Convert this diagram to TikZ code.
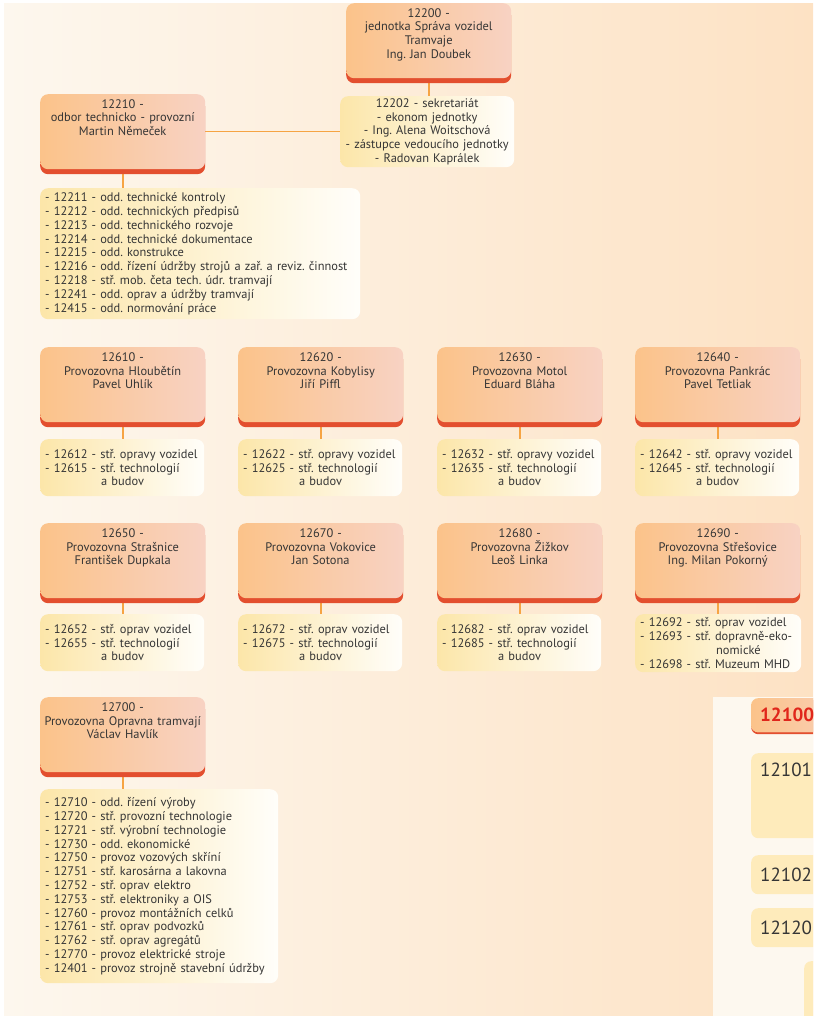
\documentclass[tikz,border=0pt]{standalone}
\usepackage{fontspec}
\setmainfont{PT Sans}
\usetikzlibrary{shadows,backgrounds}
\frenchspacing

\definecolor{bgleft}{HTML}{FDF7EE}
\definecolor{bgright}{HTML}{FDE2C4}
\definecolor{unitleft}{HTML}{FBC38A}
\definecolor{unitright}{HTML}{F8D2C3}
\definecolor{unitedge}{HTML}{E34F2F}
\definecolor{listleft}{HTML}{FCE6A9}
\definecolor{listright}{HTML}{FFFEFA}
\definecolor{linkcol}{HTML}{F6A443}
\definecolor{textcol}{HTML}{353535}
\definecolor{panelcol}{HTML}{FDF8EF}
\definecolor{sidecol}{HTML}{FEEBBB}
\definecolor{codered}{HTML}{E0261B}

\begin{document}
\begin{tikzpicture}[x=1pt, y=-1pt,
  every node/.style={font=\fontsize{12.4}{13.8}\selectfont, text=textcol},
  unitbox/.style={rounded corners=8pt, left color=unitleft, right color=unitright,
    drop shadow={shadow xshift=0pt, shadow yshift=-5pt, fill=unitedge, opacity=1},
    anchor=north west, text width=163pt, inner xsep=1pt, inner ysep=2pt,
    align=center, text height=12pt, text depth=59pt},
  listbox/.style={rounded corners=8pt, left color=listleft, right color=listright,
    anchor=north west, inner xsep=5pt, inner ysep=0pt, align=left},
  sidebox/.style={rounded corners=7pt, fill=sidecol, anchor=north west,
    text width=100pt, inner xsep=9pt, inner ysep=0pt, align=left,
    font=\fontsize{19}{22}\selectfont},
  link/.style={draw=linkcol, line width=1.6pt}]

\useasboundingbox (0,0) rectangle (813,1016);

% head of the unit
\node [unitbox] (u12200) at (346,3) {12200 -\\jednotka Správa vozidel\\Tramvaje\\Ing. Jan Doubek};
\node [listbox, align=center, text width=174pt, inner xsep=0pt, minimum height=71pt] (l12202) at (340,96)
  {12202 - sekretariát\\- ekonom jednotky\\- Ing. Alena Woitschová\\- zástupce vedoucího jednotky\\- Radovan Kaprálek};

\node [unitbox] (u12210) at (40,94) {12210 -\\odbor technicko - provozní\\Martin Němeček};
\node [listbox, text width=310pt, minimum height=131pt] (l12210) at (40,188)
  {- 12211 - odd. technické kontroly\\
   - 12212 - odd. technických předpisů\\
   - 12213 - odd. technického rozvoje\\
   - 12214 - odd. technické dokumentace\\
   - 12215 - odd. konstrukce\\
   - 12216 - odd. řízení údržby strojů a zař. a reviz. činnost\\
   - 12218 - stř. mob. četa tech. údr. tramvají\\
   - 12241 - odd. oprav a údržby tramvají\\
   - 12415 - odd. normování práce};

% provozovny
\foreach \code/\x/\y/\name in {
    12610/40/347/{Provozovna Hloubětín\\Pavel Uhlík},
    12620/238/347/{Provozovna Kobylisy\\Jiří Piffl},
    12630/437/347/{Provozovna Motol\\Eduard Bláha},
    12640/635/347/{Provozovna Pankrác\\Pavel Tetliak},
    12650/40/523/{Provozovna Strašnice\\František Dupkala},
    12670/238/523/{Provozovna Vokovice\\Jan Sotona},
    12680/437/523/{Provozovna Žižkov\\Leoš Linka},
    12690/635/523/{Provozovna Střešovice\\Ing. Milan Pokorný},
    12700/40/697/{Provozovna Opravna tramvají\\Václav Havlík}}
  \node [unitbox] (u\code) at (\x,\y) {\code\ -\\\name};

\foreach \code/\x/\y/\kind in {12610/40/439/opravy, 12620/238/439/opravy,
    12630/437/439/opravy, 12640/635/439/opravy,
    12650/40/614/oprav, 12670/238/614/oprav, 12680/437/614/oprav}
  \node [listbox, text width=154pt, minimum height=57pt] (l\code) at (\x,\y)
    {\mbox{- \the\numexpr\code+2\relax{} - stř. \kind{} vozidel}\\
     - \the\numexpr\code+5\relax{} - stř. technologií\\
     \hspace*{56pt}a budov};

\node [listbox, text width=156pt, minimum height=58pt] (l12690) at (635,614)
  {- 12692 - stř. oprav vozidel\\- 12693 - stř. dopravně-eko-\\\hspace*{76pt}nomické\\\mbox{- 12698 - stř. Muzeum MHD}};

\node [listbox, text width=228pt, minimum height=194pt] (l12700) at (40,789)
  {- 12710 - odd. řízení výroby\\
   - 12720 - stř. provozní technologie\\
   - 12721 - stř. výrobní technologie\\
   - 12730 - odd. ekonomické\\
   - 12750 - provoz vozových skříní\\
   - 12751 - stř. karosárna a lakovna\\
   - 12752 - stř. oprav elektro\\
   - 12753 - stř. elektroniky a OIS\\
   - 12760 - provoz montážních celků\\
   - 12761 - stř. oprav podvozků\\
   - 12762 - stř. oprav agregátů\\
   - 12770 - provoz elektrické stroje\\
   - 12401 - provoz strojně stavební údržby};

% next unit, cut at the page edge
\begin{scope}
  \clip (713,697) rectangle (813,1016);
  \fill [panelcol] (713,697) rectangle (813,1016);
  \node [sidebox, left color=unitleft, right color=unitright, text=codered, minimum height=34pt,
    drop shadow={shadow xshift=0pt, shadow yshift=-2pt, fill=unitedge, opacity=1}] (s12100) at (751,698)
    {\bfseries 12100};
  \node [sidebox, inner ysep=8pt, text height=15pt, text depth=54pt] (s12101) at (751,753) {12101};
  \node [sidebox, minimum height=39pt] (s12102) at (751,855) {12102};
  \node [sidebox, minimum height=39pt] (s12120) at (751,908) {12120};
  \node [sidebox, minimum height=80pt] (s12130) at (804,961) {};
\end{scope}

\begin{scope}[on background layer]
  \fill [white] (0,0) rectangle (813,1016);
  \shade [left color=bgleft, right color=bgright] (4,4) rectangle (813,1016);
  \draw [link] (u12200.south) -- (u12200.south |- l12202.north);
  \draw [link] (u12210.east) -- (l12202.west);
  \foreach \code in {12210,12610,12620,12630,12640,12650,12670,12680,12690,12700}
    \draw [link] (u\code.south) -- (u\code.south |- l\code.north);
\end{scope}

\end{tikzpicture}
\end{document}
